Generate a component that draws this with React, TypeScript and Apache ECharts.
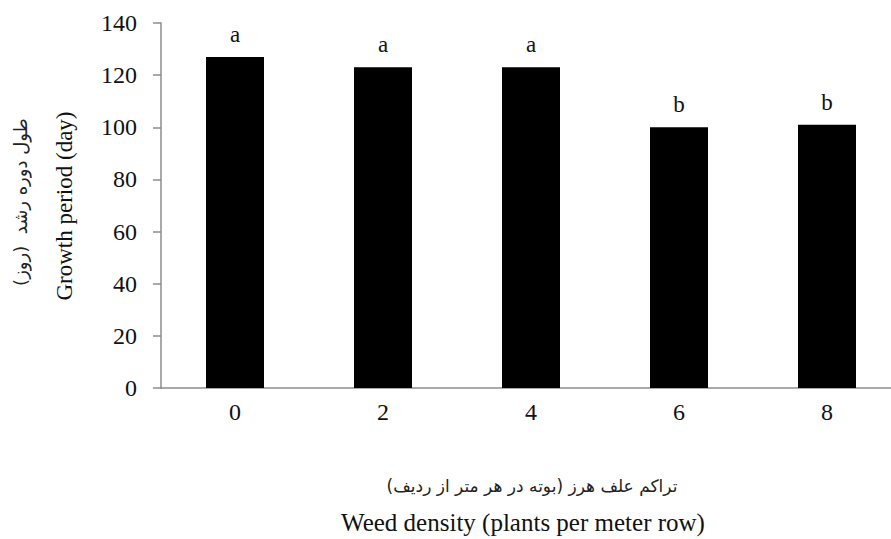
import React, { useEffect, useRef } from "react";
import * as echarts from "echarts";

const categories = ["0", "2", "4", "6", "8"];
const values = [127, 123, 123, 100, 101];
const letters = ["a", "a", "a", "b", "b"];
const yTitleEn = "Growth period (day)";
const yTitleFa = "طول دوره رشد  (روز)";
const xTitleEn = "Weed density (plants per meter row)";
const xTitleFa = "تراکم علف هرز (بوته در هر متر از ردیف)";

const SERIF = "'Liberation Serif', 'Times New Roman', serif";
const FA = "'DejaVu Sans', 'Noto Sans', sans-serif";

export default function App() {
  const ref = useRef<HTMLDivElement>(null);
  useEffect(() => {
    if (!ref.current) return;
    const chart = echarts.init(ref.current, null, { renderer: "svg" });
    chart.setOption({
      animation: false,
      backgroundColor: "#ffffff",
      grid: { left: 161, top: 23, bottom: 151, right: 9 },
      xAxis: {
        type: "category",
        data: categories,
        axisLine: { show: true, lineStyle: { color: "#8c8c8c", width: 1.5 } },
        axisTick: { show: false },
        axisLabel: { color: "#111", fontFamily: SERIF, fontSize: 24, margin: 12 },
      },
      yAxis: {
        type: "value",
        min: 0,
        max: 140,
        interval: 20,
        splitLine: { show: false },
        axisLine: { show: true, lineStyle: { color: "#8c8c8c", width: 1.5 } },
        axisTick: { show: true, length: 8, lineStyle: { color: "#8c8c8c", width: 1.5 } },
        axisLabel: { color: "#111", fontFamily: SERIF, fontSize: 24, margin: 24 },
      },
      series: [
        {
          type: "bar",
          data: values,
          barWidth: 58,
          itemStyle: { color: "#000000" },
          label: {
            show: true,
            position: "top",
            distance: 11,
            formatter: (p: any) => letters[p.dataIndex],
            fontFamily: SERIF,
            fontSize: 23,
            color: "#111",
          },
        },
      ],
      graphic: [
        {
          type: "text",
          x: 64,
          y: 206,
          rotation: Math.PI / 2,
          style: {
            text: yTitleEn,
            fontFamily: SERIF,
            fontSize: 23,
            fill: "#111",
            align: "center",
            verticalAlign: "middle",
          },
        },
        {
          type: "text",
          x: 20,
          y: 202,
          rotation: Math.PI / 2,
          style: {
            text: yTitleFa,
            fontFamily: FA,
            fontSize: 18,
            fill: "#222",
            align: "center",
            verticalAlign: "middle",
          },
        },
        {
          type: "text",
          x: 532,
          y: 486,
          style: {
            text: xTitleFa,
            fontFamily: FA,
            fontSize: 17,
            fill: "#222",
            align: "center",
            verticalAlign: "middle",
          },
        },
        {
          type: "text",
          x: 523,
          y: 522,
          style: {
            text: xTitleEn,
            fontFamily: SERIF,
            fontSize: 25,
            fill: "#111",
            align: "center",
            verticalAlign: "middle",
          },
        },
      ],
    });
    return () => chart.dispose();
  }, []);
  return (
    <div
      style={{
        position: "fixed",
        left: 0,
        top: 0,
        width: 891,
        height: 539,
        overflow: "hidden",
      }}
    >
      <div ref={ref} style={{ width: 910, height: 539 }} />
    </div>
  );
}
